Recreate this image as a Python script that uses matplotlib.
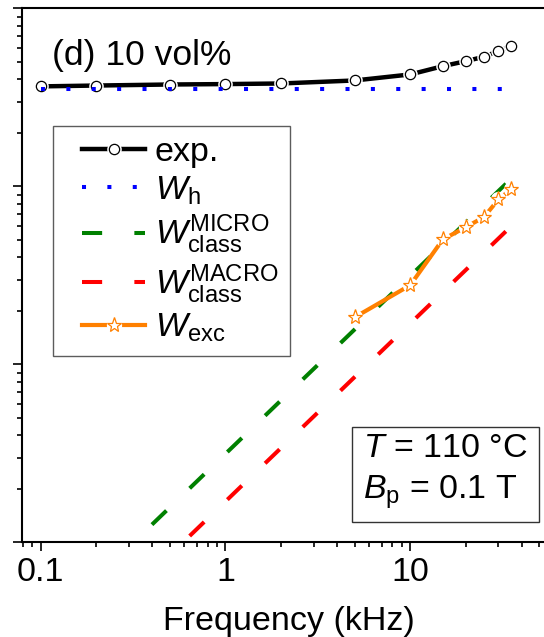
import matplotlib
matplotlib.use("Agg")
import matplotlib.pyplot as plt
from matplotlib.ticker import FormatStrFormatter, NullFormatter
from matplotlib.legend_handler import HandlerTuple

plt.rcParams['font.family'] = ['Liberation Sans', 'DejaVu Sans']
plt.rcParams['mathtext.fontset'] = 'custom'
plt.rcParams['mathtext.rm'] = 'Liberation Sans'
plt.rcParams['mathtext.it'] = 'Liberation Sans:italic'

# data (y axis has no labels, arbitrary units)
freq_exp = [0.1, 0.2, 0.5, 1, 2, 5, 10, 15, 20, 25, 30, 35]
W_exp = [365, 369, 374, 376, 379, 394, 426, 474, 506, 535, 576, 614]

freq_h = [0.1, 35]
W_h = [351, 351]

freq_micro = [0.4, 35]
W_micro = [1.26, 110]

freq_macro = [0.4, 35]
W_macro = [0.68, 59.5]

freq_exc = [5, 10, 15, 20, 25, 30, 35]
W_exc = [18.4, 27.9, 50.4, 59.1, 67.2, 84.5, 96.2]

x_ticks = [0.1, 1, 10]

FS = 24.5
GREEN = '#008000'
RED = '#FF0000'
BLUE = '#0000FF'
ORANGE = '#FF8000'

fig = plt.figure(figsize=(5.44, 6.37), dpi=100)
ax = fig.add_axes([0.0404, 0.1484, 0.9798, 0.8383])
ax.set_xscale('log')
ax.set_yscale('log')

# experimental curve: line, white halo to break the line, then circles
exp_line, = ax.plot(freq_exp, W_exp, color='black', lw=3.2, zorder=3)
exp_halo, = ax.plot(freq_exp, W_exp, ls='none', marker='o', ms=10.5,
                    mfc='white', mec='none', zorder=4)
exp_mark, = ax.plot(freq_exp, W_exp, ls='none', marker='o', ms=7.4,
                    mfc='white', mec='black', mew=0.9, zorder=5)

h_line, = ax.plot(freq_h, W_h, color=BLUE, lw=2.9, ls=(0, (1, 5.3)),
                  dash_capstyle='butt', zorder=6)

micro_line, = ax.plot(freq_micro, W_micro, color=GREEN, lw=2.9,
                      ls=(0, (5.0, 8.0)), dash_capstyle='butt', zorder=3)
macro_line, = ax.plot(freq_macro, W_macro, color=RED, lw=2.9,
                      ls=(0, (5.0, 8.0)), dash_capstyle='butt', zorder=3)

exc_line, = ax.plot(freq_exc, W_exc, color=ORANGE, lw=3.0, zorder=7)
exc_halo, = ax.plot(freq_exc, W_exc, ls='none', marker='o', ms=11,
                    mfc='white', mec='none', zorder=8)
exc_mark, = ax.plot(freq_exc, W_exc, ls='none', marker='*', ms=11,
                    mfc='white', mec=ORANGE, mew=0.9, zorder=9)

ax.set_xlim(0.0792, 60.7)
ax.set_ylim(1, 1000)

# axes styling
for side in ['left', 'bottom', 'top', 'right']:
    ax.spines[side].set_linewidth(1.5)
ax.tick_params(which='both', direction='out', top=False, right=False,
               width=1.2, labelsize=FS, pad=4)
ax.tick_params(which='major', length=6.5)
ax.tick_params(which='minor', length=3.3)
ax.set_xticks(x_ticks)
ax.xaxis.set_major_formatter(FormatStrFormatter('%g'))
ax.xaxis.set_minor_formatter(NullFormatter())
ax.yaxis.set_major_formatter(NullFormatter())
ax.yaxis.set_minor_formatter(NullFormatter())
ax.set_xlabel('Frequency (kHz)', fontsize=FS, labelpad=13)

ax.text(0.056, 0.894, '(d) 10 vol%', transform=ax.transAxes,
        fontsize=25.5, va='baseline', ha='left')

handles = [(exp_line, exp_halo, exp_mark), (h_line,), (micro_line,),
           (macro_line,), (exc_line, exc_halo, exc_mark)]
labels = ['exp.', r'$W_{\mathrm{h}}$',
          r'$W^{\mathrm{MICRO}}_{\mathrm{class}}$',
          r'$W^{\mathrm{MACRO}}_{\mathrm{class}}$',
          r'$W_{\mathrm{exc}}$']
leg = ax.legend(handles, labels, loc='upper left',
                bbox_to_anchor=(0.058, 0.780), borderaxespad=0,
                fontsize=FS, handlelength=2.38, handletextpad=0.29,
                borderpad=0.33, labelspacing=0.18, fancybox=False,
                handler_map={tuple: HandlerTuple(ndivide=1, pad=0, xpad=0.53)})
leg.get_frame().set_edgecolor('#333333')
leg.get_frame().set_linewidth(1.0)

ax.text(0.949, 0.058, '$T$ = 110 °C\n$B_{\\mathrm{p}}$ = 0.1 T',
        transform=ax.transAxes, fontsize=FS, va='bottom', ha='right',
        multialignment='left', linespacing=1.4,
        bbox=dict(boxstyle='square,pad=0.32', fc='white', ec='#333333',
                  lw=1.0))

fig.savefig('out.png', dpi=100)
